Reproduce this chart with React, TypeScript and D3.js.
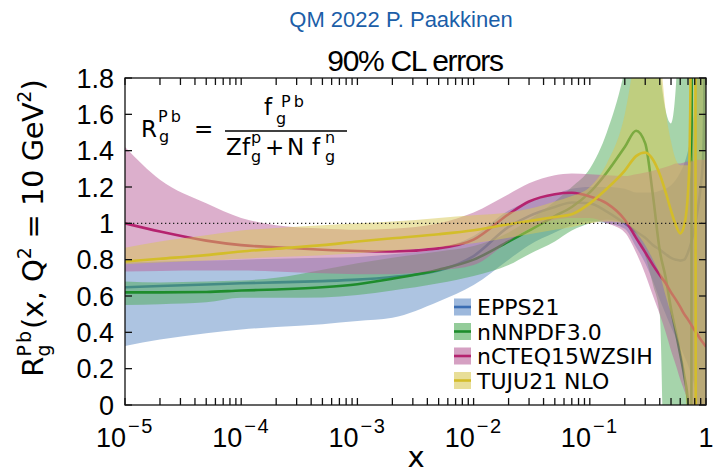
import React from "react";
import * as d3 from "d3";

// Shared x grid for the uncertainty bands
const gridX = [1e-5, 2e-5, 5e-5, 1e-4, 2e-4, 5e-4, 1e-3, 2e-3, 5e-3, 1e-2, 2e-2, 3e-2, 5e-2, 0.07, 0.1, 0.14, 0.2, 0.25, 0.3, 0.35, 0.4, 0.45, 0.5, 0.55, 0.6, 0.65, 0.7, 0.75, 0.8, 0.85, 0.9, 0.95, 1.0];

// EPPS21
const epps21Lo = [0.325, 0.36, 0.395, 0.415, 0.43, 0.445, 0.462, 0.48, 0.57, 0.66, 0.8, 0.88, 0.95, 0.99, 1.01, 1.0, 0.97, 0.87, 0.78, 0.68, 0.58, 0.5, 0.43, 0.37, 0.32, 0.27, 0.22, 0.16, 0.1, 0.0, -1, -2, -2];
const epps21Hi = [0.785, 0.79, 0.795, 0.8, 0.805, 0.81, 0.815, 0.83, 0.86, 0.93, 1.07, 1.12, 1.16, 1.19, 1.2, 1.2, 1.19, 1.17, 1.17, 1.17, 1.18, 1.19, 1.21, 1.24, 1.28, 1.33, 1.4, 1.5, 1.65, 2.2, 4, 5, 5];
const epps21MidX = [1e-5, 2e-5, 5e-5, 1e-4, 2e-4, 5e-4, 1e-3, 2e-3, 5e-3, 1e-2, 2e-2, 3e-2, 5e-2, 0.07, 0.1, 0.14, 0.2, 0.25, 0.3, 0.35, 0.4, 0.45, 0.5, 0.55, 0.6, 0.65, 0.7, 0.75, 0.8, 0.85, 0.9, 0.95, 0.97, 0.99];
const epps21Mid = [0.648, 0.655, 0.663, 0.67, 0.675, 0.682, 0.69, 0.705, 0.74, 0.82, 0.98, 1.04, 1.09, 1.115, 1.11, 1.065, 1.0, 0.955, 0.92, 0.88, 0.855, 0.83, 0.81, 0.8, 0.795, 0.8, 0.84, 0.9, 0.98, 1.08, 1.2, 1.4, 1.8, 3];

// nNNPDF3.0
const nnnpdfLo = [0.55, 0.555, 0.565, 0.59, 0.59, 0.592, 0.605, 0.63, 0.67, 0.71, 0.77, 0.83, 0.9, 0.96, 1.0, 1.02, 1.0, 0.93, 0.82, 0.66, 0.5, -1, -2, -2, -2, -2, -2, -2, -2, -2, -2, -2, -2];
const nnnpdfHi = [0.68, 0.675, 0.68, 0.685, 0.7, 0.745, 0.78, 0.81, 0.845, 0.875, 0.95, 1.02, 1.12, 1.2, 1.3, 1.5, 1.85, 2.2, 2.5, 2.3, 1.85, 1.62, 1.55, 1.75, 2.5, 3, 3, 3, 3, 3, 3, 3, 3];
const nnnpdfMidX = [1e-5, 2e-5, 5e-5, 1e-4, 2e-4, 5e-4, 1e-3, 2e-3, 5e-3, 1e-2, 2e-2, 3e-2, 5e-2, 0.07, 0.1, 0.14, 0.2, 0.25, 0.3, 0.35, 0.4, 0.45, 0.5, 0.55, 0.6, 0.65, 0.7, 0.72, 0.74, 0.76];
const nnnpdfMid = [0.62, 0.62, 0.622, 0.63, 0.636, 0.648, 0.665, 0.695, 0.745, 0.8, 0.9, 0.96, 1.04, 1.09, 1.17, 1.28, 1.42, 1.51, 1.44, 1.15, 0.85, 0.7, 0.53, 0.4, 0.28, 0.16, 0.01, -0.6, -5, 6];

// nCTEQ15WZSIH
const ncteqLo = [0.735, 0.738, 0.74, 0.74, 0.735, 0.725, 0.72, 0.72, 0.74, 0.77, 0.9, 0.97, 1.02, 1.03, 1.03, 1.0, 0.95, 0.84, 0.72, 0.6, 0.5, 0.4, 0.3, 0.22, 0.14, 0.08, 0.02, -0.1, -0.3, -0.5, -0.5, -0.5, -0.5];
const ncteqHi = [1.42, 1.24, 1.11, 1.03, 0.99, 0.972, 0.965, 0.97, 1.0, 1.06, 1.16, 1.22, 1.265, 1.275, 1.27, 1.265, 1.26, 1.27, 1.28, 1.29, 1.3, 1.31, 1.32, 1.33, 1.33, 1.335, 1.34, 1.34, 1.345, 1.35, 1.35, 1.35, 1.35];
const ncteqMidX = gridX;
const ncteqMid = [1.0, 0.955, 0.905, 0.88, 0.868, 0.855, 0.848, 0.845, 0.862, 0.91, 1.05, 1.12, 1.16, 1.168, 1.148, 1.11, 1.02, 0.92, 0.84, 0.77, 0.715, 0.67, 0.62, 0.58, 0.54, 0.5, 0.47, 0.44, 0.41, 0.385, 0.36, 0.34, 0.32];

// TUJU21 NLO
const tujuLo = [0.775, 0.785, 0.795, 0.805, 0.815, 0.825, 0.835, 0.85, 0.87, 0.89, 0.92, 0.94, 0.965, 0.98, 1.0, 1.01, 1.0, 0.95, 0.88, 0.8, 0.72, 0.6, 0.5, 0.4, 0.3, 0.15, -0.2, -1, -1, -1, -1, -1, -1];
const tujuHi = [0.865, 0.9, 0.935, 0.96, 0.975, 0.99, 1.0, 1.01, 1.03, 1.045, 1.06, 1.08, 1.12, 1.15, 1.2, 1.33, 1.6, 1.95, 2.2, 2.2, 1.95, 1.62, 1.45, 1.35, 1.32, 1.32, 1.32, 1.35, 2, 3, 3, 3, 3];
const tujuMidX = [1e-5, 2e-5, 5e-5, 1e-4, 2e-4, 5e-4, 1e-3, 2e-3, 5e-3, 1e-2, 2e-2, 3e-2, 5e-2, 0.07, 0.1, 0.14, 0.2, 0.25, 0.3, 0.35, 0.4, 0.45, 0.5, 0.55, 0.6, 0.65, 0.68, 0.7, 0.72, 0.74, 0.76, 0.8, 0.83];
const tujuMid = [0.79, 0.805, 0.825, 0.845, 0.86, 0.88, 0.9, 0.918, 0.94, 0.962, 0.995, 1.012, 1.035, 1.05, 1.11, 1.19, 1.29, 1.37, 1.39, 1.35, 1.27, 1.17, 1.07, 0.99, 0.945, 0.99, 1.07, 1.17, 1.35, 2.0, 5, 6, -5];

const seriesNames = ["EPPS21", "nNNPDF3.0", "nCTEQ15WZSIH", "TUJU21 NLO"];

const yTicks = [0, 0.2, 0.4, 0.6, 0.8, 1, 1.2, 1.4, 1.6, 1.8];
const yTickLabels = ["0", "0.2", "0.4", "0.6", "0.8", "1", "1.2", "1.4", "1.6", "1.8"];
const xDecades = [1e-5, 1e-4, 1e-3, 1e-2, 1e-1, 1];
const xDecadeExponents = ["−5", "−4", "−3", "−2", "−1", ""];

const W = 714;
const H = 476;
const M = { left: 125, right: 706, top: 78, bottom: 405 };

const SANS = "'DejaVu Sans', sans-serif";
const TICKFONT = "'Liberation Sans', Arial, sans-serif";

export default function App() {
  const x = d3.scaleLog().domain([1e-5, 1]).range([M.left, M.right]);
  const y = d3.scaleLinear().domain([0, 1.8]).range([M.bottom, M.top]);

  const series = [
    { name: seriesNames[0], fill: "#5b89c4", stroke: "#3a6db3", lo: epps21Lo, hi: epps21Hi, midX: epps21MidX, mid: epps21Mid },
    { name: seriesNames[1], fill: "#4daa57", stroke: "#1e8c2c", lo: nnnpdfLo, hi: nnnpdfHi, midX: nnnpdfMidX, mid: nnnpdfMid },
    { name: seriesNames[2], fill: "#b9609a", stroke: "#b5236f", lo: ncteqLo, hi: ncteqHi, midX: ncteqMidX, mid: ncteqMid },
    { name: seriesNames[3], fill: "#d8c853", stroke: "#d3bd2a", lo: tujuLo, hi: tujuHi, midX: tujuMidX, mid: tujuMid },
  ];

  const band = d3
    .area<number>()
    .x((_, i) => x(gridX[i]))
    .curve(d3.curveMonotoneX);

  const line = d3
    .line<[number, number]>()
    .x((d) => x(d[0]))
    .y((d) => y(d[1]))
    .curve(d3.curveMonotoneX);

  const minorTicks: number[] = [];
  for (let e = -5; e < 0; e++) {
    for (let k = 1; k <= 9; k++) minorTicks.push(k * Math.pow(10, e));
  }
  minorTicks.push(1);

  const tickLen = 7;

  return (
    <svg width={W} height={H} style={{ position: "absolute", left: 0, top: 0, background: "#fff" }}>
      <defs>
        <clipPath id="plot-area">
          <rect x={M.left} y={M.top} width={M.right - M.left} height={M.bottom - M.top} />
        </clipPath>
      </defs>

      {/* Header */}
      <text x={401} y={27} textAnchor="middle" fontFamily={TICKFONT} fontSize={22} fill="#1b5ea8">
        QM 2022 P. Paakkinen
      </text>
      <text x={415} y={71} textAnchor="middle" fontFamily={TICKFONT} fontSize={30} letterSpacing={-1.3} fill="#000">
        90% CL errors
      </text>

      {/* Bands and central values */}
      <g clipPath="url(#plot-area)">
        {series.map((s) => (
          <g key={s.name}>
            <path
              d={band.y0((_, i) => y(s.lo[i])).y1((_, i) => y(s.hi[i]))(s.lo) || ""}
              fill={s.fill}
              fillOpacity={0.5}
              stroke="none"
            />
            <path
              d={line(s.midX.map((v, i) => [v, s.mid[i]] as [number, number])) || ""}
              fill="none"
              stroke={s.stroke}
              strokeWidth={2.6}
            />
          </g>
        ))}
        <line x1={M.left} x2={M.right} y1={y(1)} y2={y(1)} stroke="#222" strokeWidth={1.2} strokeDasharray="1.3,2.7" />
      </g>

      {/* Frame and ticks */}
      <g stroke="#111" strokeWidth={1.3} fill="none">
        <rect x={M.left} y={M.top} width={M.right - M.left} height={M.bottom - M.top} />
        {yTicks.map((t) => (
          <g key={"yt" + t}>
            <line x1={M.left} x2={M.left + tickLen} y1={y(t)} y2={y(t)} />
            <line x1={M.right} x2={M.right - tickLen} y1={y(t)} y2={y(t)} />
          </g>
        ))}
        {minorTicks.map((t, i) => (
          <g key={"xt" + i}>
            <line x1={x(t)} x2={x(t)} y1={M.bottom} y2={M.bottom - tickLen} />
            <line x1={x(t)} x2={x(t)} y1={M.top} y2={M.top + tickLen} />
          </g>
        ))}
      </g>

      {/* Tick labels */}
      <g fontFamily={TICKFONT} fontSize={27} fill="#000">
        {yTicks.map((t, i) => (
          <text key={"yl" + t} x={M.left - 11} y={y(t) + 9.5} textAnchor="end">
            {yTickLabels[i]}
          </text>
        ))}
        {xDecades.map((t, i) => (
          <text key={"xl" + t} x={x(t)} y={447} textAnchor="middle">
            {xDecadeExponents[i] ? "10" : "1"}
            {xDecadeExponents[i] ? (
              <tspan fontSize={20} dy={-14} dx={2} letterSpacing={1.5}>
                {xDecadeExponents[i]}
              </tspan>
            ) : null}
          </text>
        ))}
      </g>

      {/* Axis titles */}
      <text x={416} y={467} textAnchor="middle" fontFamily={SANS} fontSize={29} fill="#000">
        x
      </text>
      <text transform="translate(43,228) rotate(-90)" textAnchor="middle" fontFamily={SANS} fontSize={29} fill="#000">
        R
        <tspan fontSize={19} dy={7}>g</tspan>
        <tspan fontSize={19} dx={-12} dy={-19} letterSpacing={2}>Pb</tspan>
        <tspan dy={12}>(x, Q</tspan>
        <tspan fontSize={19} dy={-12}>2</tspan>
        <tspan dy={12} letterSpacing={-0.5}> = 10 GeV</tspan>
        <tspan fontSize={19} dy={-12}>2</tspan>
        <tspan dy={12}>)</tspan>
      </text>

      {/* Ratio definition */}
      <g fontFamily={SANS} fill="#000">
        <text x={141} y={137} fontSize={23}>R</text>
        <text x={158} y={122} fontSize={16} letterSpacing={3}>Pb</text>
        <text x={159} y={142} fontSize={16}>g</text>
        <text x={194} y={137} fontSize={23}>=</text>
        <text x={264} y={115} fontSize={23}>f</text>
        <text x={281} y={107} fontSize={16} letterSpacing={3}>Pb</text>
        <text x={276} y={124} fontSize={16}>g</text>
        <line x1={225} x2={347} y1={131} y2={131} stroke="#000" strokeWidth={1.3} />
        <text x={226} y={155} fontSize={23}>Z</text>
        <text x={242} y={155} fontSize={23}>f</text>
        <text x={251} y={143} fontSize={16}>p</text>
        <text x={251} y={162} fontSize={16}>g</text>
        <text x={265} y={155} fontSize={23}>+</text>
        <text x={287} y={155} fontSize={23}>N</text>
        <text x={312} y={155} fontSize={23}>f</text>
        <text x={325} y={143} fontSize={16}>n</text>
        <text x={325} y={162} fontSize={16}>g</text>
      </g>

      {/* Legend */}
      <g fontFamily={SANS} fontSize={22} fill="#000">
        {series.map((s, i) => {
          const cy = 307 + i * 24.5;
          return (
            <g key={"lg" + s.name}>
              <rect x={454} y={cy - 8.5} width={17} height={17} fill={s.fill} fillOpacity={0.6} />
              <line x1={454} x2={471} y1={cy} y2={cy} stroke={s.stroke} strokeWidth={2.6} />
              <text x={477} y={cy + 8}>{s.name}</text>
            </g>
          );
        })}
      </g>
    </svg>
  );
}
